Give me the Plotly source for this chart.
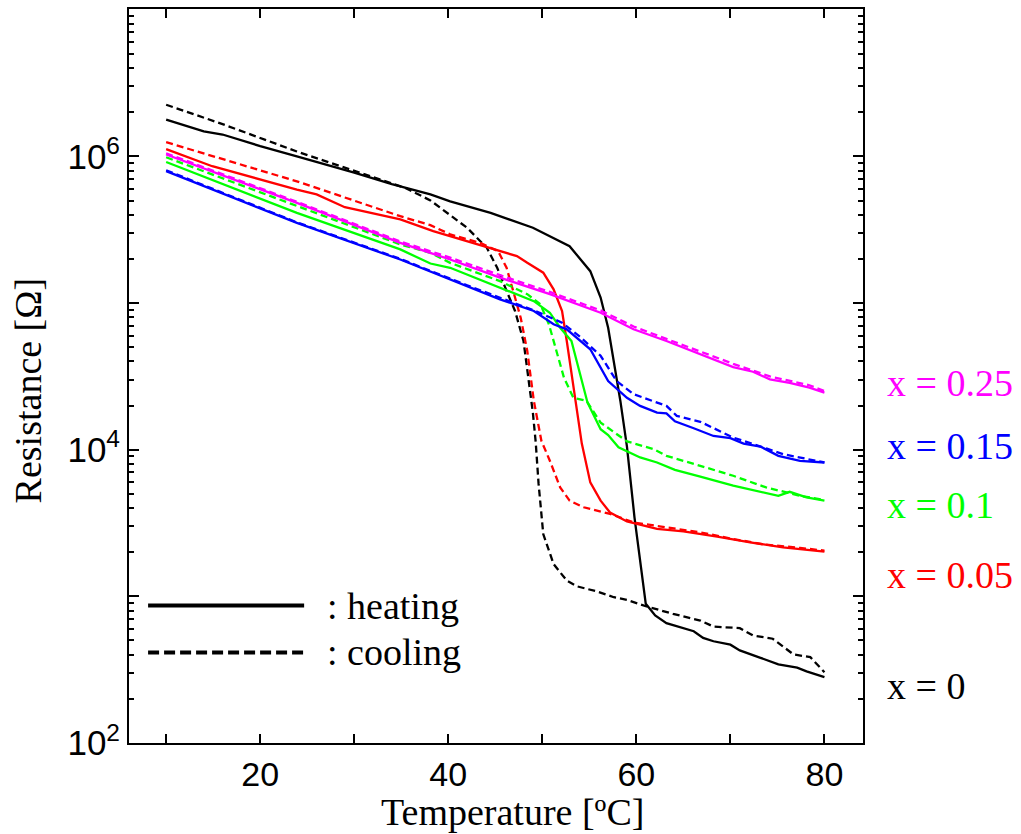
import plotly.graph_objects as go

# ---------------- data (Temperature [degC], Resistance [Ohm]) ----------------
t_x0_heat = [10, 12, 14, 16, 20, 23.9, 30, 34, 38.1, 40.2, 44.5, 49.0, 52.9, 55.1, 56.2, 57.0, 57.7,
             58.3, 59.0, 59.8, 61.0, 62.0, 63.2, 66.1, 67.1, 68.2, 70.0, 71.0, 73.2, 75.1, 77.1, 78.1, 80]
r_x0_heat = [1.78e6, 1.62e6, 1.48e6, 1.41e6, 1.175e6, 1.0e6, 7.76e5, 6.46e5, 5.50e5, 4.94e5, 4.12e5,
             3.26e5, 2.44e5, 1.65e5, 1.09e5, 6.79e4, 3.63e4, 2.15e4, 1.05e4, 3.46e3, 889, 740, 656,
             578, 521, 494, 468, 428, 381, 344, 326, 308, 281]

t_x0_cool = [10, 16, 23.9, 30, 35.6, 38.1, 42.0, 44.1, 45.2, 46.2, 47.1, 48.0, 48.7, 49.0, 49.3, 49.6,
             50.1, 51.2, 52.6, 53.7, 55.8, 57.6, 59.0, 61.1, 63.9, 66.8, 68.2, 71.0, 72.4, 74.5, 76.7,
             78.5, 80]
r_x0_cool = [2.25e6, 1.66e6, 1.08e6, 7.98e5, 6.03e5, 5.01e5, 3.26e5, 2.38e5, 1.74e5, 1.21e5, 8.83e4,
             5.51e4, 2.63e4, 1.78e4, 1.12e4, 5.89e3, 2.66e3, 1.66e3, 1.28e3, 1.17e3, 1.08e3, 986, 946,
             853, 760, 684, 622, 607, 541, 514, 402, 385, 304]

t_x005_heat = [10, 14.9, 23.9, 26, 29, 34.9, 38.4, 43.7, 47.3, 48.4, 50.1, 51.2, 52.1, 52.6, 53.3, 54.2,
               55.1, 56.2, 57.2, 59.0, 62.2, 65.0, 68.6, 72.1, 75.6, 80]
r_x005_heat = [1.12e6, 8.57e5, 5.94e5, 5.50e5, 4.50e5, 3.72e5, 3.09e5, 2.44e5, 2.09e5, 1.88e5, 1.61e5,
               1.24e5, 8.83e4, 5.51e4, 2.65e4, 1.10e4, 5.98e3, 4.49e3, 3.73e3, 3.24e3, 2.88e3, 2.77e3,
               2.55e3, 2.33e3, 2.16e3, 2.02e3]

t_x005_cool = [10, 23.9, 34.9, 38.1, 40.2, 43.4, 45.3, 46.2, 46.9, 47.7, 48.4, 49.1, 49.9, 50.8, 51.9,
               52.9, 54.4, 57.2, 59.7, 63.2, 66.8, 70.3, 73.8, 77.4, 80]
r_x005_cool = [1.25e6, 6.76e5, 3.91e5, 3.40e5, 2.94e5, 2.57e5, 2.26e5, 1.74e5, 1.21e5, 7.94e4, 4.71e4,
               2.15e4, 1.15e4, 8.41e3, 5.53e3, 4.49e3, 4.05e3, 3.65e3, 3.19e3, 2.95e3, 2.73e3, 2.46e3,
               2.25e3, 2.14e3, 2.05e3]

t_x01_heat = [10, 23.9, 34.9, 38.1, 40.2, 45.5, 49.1, 50.8, 51.9, 53.1, 54.0, 54.8, 56.2, 57.0, 58.1,
              60.4, 62.2, 64.1, 66.8, 70.3, 75.1, 76.3, 78.1, 80]
r_x01_heat = [9.16e5, 4.12e5, 2.32e5, 1.86e5, 1.74e5, 1.27e5, 1.03e5, 8.59e4, 6.79e4, 5.51e4, 3.27e4,
              2.10e4, 1.38e4, 1.26e4, 1.04e4, 8.85e3, 8.18e3, 7.29e3, 6.55e3, 5.68e3, 4.85e3, 5.16e3,
              4.73e3, 4.49e3]

t_x01_cool = [10, 23.9, 34.9, 38.1, 40.2, 45.5, 48.4, 49.8, 50.7, 51.4, 52.3, 53.3, 54.7, 56.2, 59.0,
              61.8, 63.2, 66.8, 70.3, 73.8, 77.4, 80]
r_x01_cool = [9.86e5, 4.57e5, 2.51e5, 2.20e5, 1.88e5, 1.41e5, 1.15e5, 9.79e4, 7.16e4, 4.97e4, 3.10e4,
              2.26e4, 2.15e4, 1.53e4, 1.14e4, 1.01e4, 9.08e3, 7.76e3, 6.64e3, 5.53e3, 4.85e3, 4.54e3]

t_x015_heat = [10, 23.9, 34.9, 38.4, 42.0, 45.5, 49.1, 51.2, 52.6, 54.0, 55.1, 57.0, 59.0, 60.4, 62.2,
               63.2, 64.1, 66.1, 68.2, 70.0, 71.4, 73.2, 75.1, 77.4, 80]
r_x015_heat = [7.93e5, 3.52e5, 1.98e5, 1.61e5, 1.31e5, 1.06e5, 8.83e4, 7.16e4, 6.62e4, 5.51e4, 4.84e4,
               2.94e4, 2.26e4, 1.99e4, 1.79e4, 1.77e4, 1.56e4, 1.40e4, 1.24e4, 1.20e4, 1.10e4, 1.05e4,
               9.08e3, 8.39e3, 8.18e3]

t_x015_cool = [10, 23.9, 34.9, 42.0, 49.1, 52.1, 54.0, 56.2, 57.9, 59.7, 63.2, 64.3, 66.8, 70.3, 73.8,
               75.6, 80]
r_x015_cool = [8.04e5, 3.55e5, 2.00e5, 1.32e5, 8.91e4, 7.35e4, 5.89e4, 4.37e4, 2.94e4, 2.39e4, 1.99e4,
               1.70e4, 1.55e4, 1.21e4, 1.02e4, 9.33e3, 8.18e3]

t_x025_heat = [10, 23.9, 34.9, 40.2, 45.5, 50.8, 56.2, 59.7, 63.2, 66.8, 70.3, 72.4, 74.2, 76.3, 78.4, 80]
r_x025_heat = [1.03e6, 4.82e5, 2.57e5, 1.98e5, 1.49e5, 1.15e5, 8.59e4, 6.62e4, 5.51e4, 4.48e4, 3.66e4,
               3.40e4, 3.02e4, 2.86e4, 2.65e4, 2.45e4]

t_x025_cool = [10, 23.9, 34.9, 40.2, 45.5, 50.8, 56.2, 59.7, 63.2, 66.8, 70.3, 74.2, 78.4, 80]
r_x025_cool = [1.05e6, 4.90e5, 2.63e5, 2.04e5, 1.55e5, 1.19e5, 8.91e4, 6.92e4, 5.69e4, 4.68e4, 3.85e4,
               3.16e4, 2.75e4, 2.51e4]

series_labels = ["x = 0.25", "x = 0.15", "x = 0.1", "x = 0.05", "x = 0"]
series_colors = ["#ff00ff", "#0000ff", "#00ff00", "#ff0000", "#000000"]

x_tickvals = [10, 20, 30, 40, 50, 60, 70, 80]
x_ticktext = ["", "20", "", "40", "", "60", "", "80"]
y_tickvals = [1e2, 1e3, 1e4, 1e5, 1e6, 1e7]
y_ticktext = ["10<sup>2</sup>", "", "10<sup>4</sup>", "", "10<sup>6</sup>", ""]
y_minorvals = [m * 10 ** e for e in range(2, 7) for m in range(2, 10)]

# ---------------- figure ----------------
fig = go.Figure()

curves = [
    (t_x0_heat, r_x0_heat, "#000000", "solid"),
    (t_x0_cool, r_x0_cool, "#000000", "7px,4px"),
    (t_x005_heat, r_x005_heat, "#ff0000", "solid"),
    (t_x005_cool, r_x005_cool, "#ff0000", "7px,4px"),
    (t_x01_heat, r_x01_heat, "#00ff00", "solid"),
    (t_x01_cool, r_x01_cool, "#00ff00", "7px,4px"),
    (t_x015_heat, r_x015_heat, "#0000ff", "solid"),
    (t_x015_cool, r_x015_cool, "#0000ff", "7px,4px"),
    (t_x025_heat, r_x025_heat, "#ff00ff", "solid"),
    (t_x025_cool, r_x025_cool, "#ff00ff", "7px,4px"),
]
for tx, ry, col, dash in curves:
    fig.add_trace(go.Scatter(x=tx, y=ry, mode="lines",
                             line=dict(color=col, width=2.3, dash=dash),
                             showlegend=False, hoverinfo="skip"))

serif = "Liberation Serif, Times New Roman, serif"
sans = "Liberation Sans, Arial, sans-serif"

fig.update_layout(
    width=1021, height=834,
    margin=dict(l=129, r=158, t=7, b=91),
    paper_bgcolor="white", plot_bgcolor="white",
    showlegend=False,
    xaxis=dict(range=[6.05, 84.1], tickmode="array", tickvals=x_tickvals, ticktext=x_ticktext,
               ticks="inside", ticklen=9, tickwidth=2, tickcolor="black",
               showline=True, linewidth=2, linecolor="black", mirror="ticks",
               showgrid=False, zeroline=False, ticklabelstandoff=0,
               tickfont=dict(family=sans, size=34, color="black")),
    yaxis=dict(type="log", range=[2, 7.005], tickmode="array", tickvals=y_tickvals, ticktext=y_ticktext,
               ticks="inside", ticklen=10, tickwidth=2, tickcolor="black",
               showline=True, linewidth=2, linecolor="black", mirror="ticks",
               showgrid=False, zeroline=False, ticklabelstandoff=0,
               minor=dict(tickmode="array", tickvals=y_minorvals, ticks="inside", ticklen=5,
                          tickwidth=2, tickcolor="black", showgrid=False),
               tickfont=dict(family=sans, size=35, color="black")),
)

# axis titles
fig.add_annotation(text="Temperature [ºC]", xref="paper", yref="paper", x=0.5225, y=-0.094,
                   xanchor="center", yanchor="middle", showarrow=False,
                   font=dict(family=serif, size=38, color="black"))
fig.add_annotation(text="Resistance [Ω]", xref="paper", yref="paper", x=-0.137, y=0.481,
                   xanchor="center", yanchor="middle", textangle=-90, showarrow=False,
                   font=dict(family=serif, size=38, color="black"))

# series labels on the right
label_y = [0.4903, 0.4047, 0.3245, 0.2293, 0.0771]
for lab, col, yy in zip(series_labels, series_colors, label_y):
    fig.add_annotation(text=lab, xref="paper", yref="paper", x=1.0296, y=yy,
                       xanchor="left", yanchor="middle", showarrow=False,
                       font=dict(family=serif, size=38, color=col))

# heating / cooling key
fig.add_shape(type="line", xref="paper", yref="paper", x0=0.026, x1=0.2386, y0=0.1872, y1=0.1872,
              line=dict(color="black", width=4))
fig.add_shape(type="line", xref="paper", yref="paper", x0=0.026, x1=0.2386, y0=0.1233, y1=0.1233,
              line=dict(color="black", width=4, dash="11px,5px"))
fig.add_annotation(text=": heating", xref="paper", yref="paper", x=0.267, y=0.1872,
                   xanchor="left", yanchor="middle", showarrow=False,
                   font=dict(family=serif, size=38, color="black"))
fig.add_annotation(text=": cooling", xref="paper", yref="paper", x=0.267, y=0.1233,
                   xanchor="left", yanchor="middle", showarrow=False,
                   font=dict(family=serif, size=38, color="black"))

fig.write_html("out.html")
